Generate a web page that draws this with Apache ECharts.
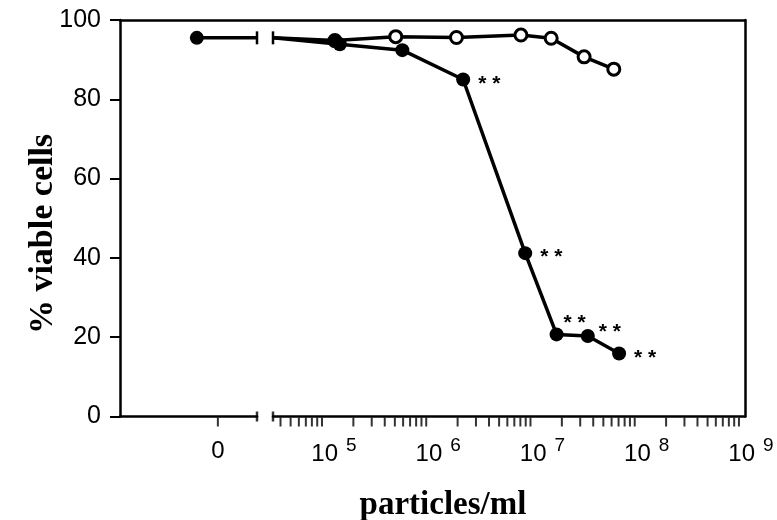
<!DOCTYPE html>
<html>
<head>
<meta charset="utf-8">
<script src="https://cdn.jsdelivr.net/npm/echarts@6/dist/echarts.min.js"></script>
<style>
html,body{margin:0;padding:0;background:#fff;}
#chart{width:777px;height:520px;}
</style>
</head>
<body>
<div id="chart"></div>
<script>
// ---- data ----
// control (no particles)
const controlValue = 95.5;
// particles/ml and % viable cells, filled circles
const filledConc = [1.48e5, 5.9e5, 2.26e6, 8.9e6, 1.78e7, 3.55e7, 7.08e7];
const filledViable = [93.9, 92.4, 85.0, 41.2, 20.7, 20.3, 15.9];
const filledSignif = [false, false, true, true, true, true, true];
// particles/ml and % viable cells, open circles
const openConc = [1.33e5, 5.1e5, 1.95e6, 8.1e6, 1.58e7, 3.27e7, 6.3e7];
const openViable = [94.8, 95.8, 95.6, 96.2, 95.4, 90.7, 87.6];
// axis ticks
const yTicks = [0, 20, 40, 60, 80, 100];
const decadeExponents = [5, 6, 7, 8, 9];
const minorMultipliers = [1, 2, 3, 4, 5, 6, 7, 8, 9];
// texts
const yTitle = '% viable cells';
const xTitle = 'particles/ml';

// ---- layout / style (not data) ----
const starShift = [null, null, [0, 5], [0, 4], [-8, -11], [-4, -4], [0, 5]];
const FONT = 'Liberation Sans';
const SERIF = 'Liberation Serif';
const LW = 3.5;
const logMin = 4.53, logMax = 9.058;

const minorTicks = [];
decadeExponents.concat([4]).forEach(function (e) {
  minorMultipliers.forEach(function (m) {
    const v = e + Math.log10(m);
    if (v >= logMin && v <= logMax) minorTicks.push(v);
  });
});

const filledData = [{ value: [logMin, controlValue], symbol: 'rect', symbolSize: [2.5, 13] }].concat(
  filledConc.map(function (c, i) {
    const item = { value: [Math.log10(c), filledViable[i]] };
    if (filledSignif[i]) {
      item.label = {
        show: true, formatter: '* *', position: 'right', distance: 8,
        offset: starShift[i], fontSize: 21, fontWeight: 'bold', fontFamily: FONT, color: '#000'
      };
    }
    return item;
  })
);
const openData = [{ value: [logMin, controlValue], symbol: 'none' }].concat(
  openConc.map(function (c, i) {
    const item = { value: [Math.log10(c), openViable[i]] };
    if (i === 0) item.itemStyle = { color: '#000' };
    return item;
  })
);

const chart = echarts.init(document.getElementById('chart'), null, { renderer: 'canvas' });
const axisLine = { show: true, onZero: false, lineStyle: { color: '#000', width: 2.5 } };
const gridBase = { top: 20, height: 396.5, containLabel: false, outerBoundsMode: 'none' };
const tickMark = { type: 'scatter', clip: false, silent: true, symbol: 'rect', symbolSize: [2, 9], symbolOffset: [0, 5.5], itemStyle: { color: '#000' } };

chart.setOption({
  backgroundColor: '#fff',
  animation: false,
  graphic: [
    {
      type: 'text', x: 43, y: 234, rotation: Math.PI / 2, silent: true,
      style: { text: yTitle, fontSize: 34, fontWeight: 'bold', fontFamily: SERIF, fill: '#000', align: 'center', verticalAlign: 'middle' }
    }
  ],
  grid: [
    Object.assign({ left: 120, width: 137 }, gridBase),
    Object.assign({ left: 273, width: 472 }, gridBase),
    Object.assign({ left: 120, width: 625 }, gridBase)
  ],
  xAxis: [
    {
      gridIndex: 0, type: 'value', min: -1, max: 0.4,
      axisLine: axisLine,
      axisTick: { show: false },
      axisLabel: { show: true, customValues: [0], margin: 23, fontSize: 24, fontFamily: FONT, color: '#000' },
      splitLine: { show: false }
    },
    {
      gridIndex: 1, type: 'value', min: logMin, max: logMax,
      axisLine: axisLine,
      axisTick: { show: false },
      axisLabel: {
        show: true, customValues: decadeExponents, margin: 20, color: '#000',
        formatter: function (v) { return '{b|10}{s|' + Math.round(v) + '}'; },
        rich: {
          b: { fontSize: 24, fontFamily: FONT, color: '#000', padding: [0, 0, 0, 24] },
          s: { fontSize: 19, fontFamily: FONT, color: '#000', padding: [0, 0, 16, 8] }
        }
      },
      splitLine: { show: false },
      name: xTitle, nameLocation: 'middle', nameGap: 72,
      nameTextStyle: { fontSize: 33, fontWeight: 'bold', fontFamily: SERIF, color: '#000', padding: [0, 132, 0, 0] }
    },
    {
      gridIndex: 2, type: 'value', min: 0, max: 1, position: 'top',
      axisLine: axisLine, axisTick: { show: false }, axisLabel: { show: false }, splitLine: { show: false }
    }
  ],
  yAxis: [
    {
      gridIndex: 0, type: 'value', min: 0, max: 100, interval: 20,
      axisLine: axisLine,
      axisTick: { show: true, length: 10, lineStyle: { color: '#000', width: 2 } },
      axisLabel: { margin: 19, fontSize: 25, fontFamily: FONT, color: '#000' },
      splitLine: { show: false }
    },
    { gridIndex: 1, type: 'value', min: 0, max: 100, show: false },
    {
      gridIndex: 2, type: 'value', min: 0, max: 1, position: 'right',
      axisLine: axisLine, axisTick: { show: false }, axisLabel: { show: false }, splitLine: { show: false }
    }
  ],
  series: [
    Object.assign({ name: 'x ticks left', xAxisIndex: 0, yAxisIndex: 0, data: [[0, 0]] }, tickMark),
    Object.assign({ name: 'x ticks right', xAxisIndex: 1, yAxisIndex: 1, data: minorTicks.map(function (v) { return [v, 0]; }) }, tickMark),
    {
      name: 'control', type: 'line', xAxisIndex: 0, yAxisIndex: 0, clip: false,
      lineStyle: { color: '#000', width: LW }, itemStyle: { color: '#000' },
      data: [
        { value: [-0.215, controlValue], symbol: 'circle', symbolSize: 14 },
        { value: [0.4, controlValue], symbol: 'rect', symbolSize: [2.5, 13] }
      ],
      z: 5
    },
    {
      name: 'axis break left', type: 'scatter', xAxisIndex: 0, yAxisIndex: 0, clip: false,
      symbol: 'rect', symbolSize: [2.5, 10], itemStyle: { color: '#000' },
      data: [[0.4, 0]]
    },
    {
      name: 'axis break right', type: 'scatter', xAxisIndex: 1, yAxisIndex: 1, clip: false,
      symbol: 'rect', symbolSize: [2.5, 10], itemStyle: { color: '#000' },
      data: [[logMin, 0]]
    },
    {
      name: 'open', type: 'line', xAxisIndex: 1, yAxisIndex: 1, clip: false,
      symbol: 'circle', symbolSize: 12,
      lineStyle: { color: '#000', width: LW },
      itemStyle: { color: '#fff', borderColor: '#000', borderWidth: 3 },
      data: openData, z: 3
    },
    {
      name: 'filled', type: 'line', xAxisIndex: 1, yAxisIndex: 1, clip: false,
      symbol: 'circle', symbolSize: 14,
      lineStyle: { color: '#000', width: LW },
      itemStyle: { color: '#000' },
      data: filledData, z: 4
    }
  ]
});
</script>
</body>
</html>
